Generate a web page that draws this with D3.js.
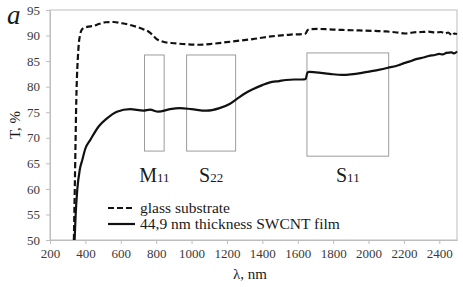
<!DOCTYPE html>
<html>
<head>
  <meta charset="utf-8">
  <title>Transmittance spectra</title>
  <script src="https://d3js.org/d3.v7.min.js"></script>
  <style>
    body { margin: 0; background: #fff; }
    svg { font-family: "Liberation Serif", "Times New Roman", serif; }
    .axis path, .axis line { stroke: #bdbdbd; }
    .line { fill: none; stroke: #111; stroke-width: 2.2; stroke-linejoin: round; }
    .box { fill: none; stroke: #9c9c9c; stroke-width: 1; }
  </style>
</head>
<body>
  <svg width="463" height="287"></svg>
  <script>
    // glass substrate
    const glassL = [335, 340, 350, 358, 363, 370, 376, 390, 410, 447, 480, 513, 560, 607, 650, 690, 730, 756, 780, 803, 830, 850, 900, 972, 1046, 1120, 1196, 1270, 1346, 1420, 1495, 1560, 1626, 1645, 1654, 1664, 1710, 1780, 1851, 1950, 2038, 2100, 2160, 2207, 2250, 2300, 2338, 2380, 2410, 2432, 2450, 2465, 2473, 2485, 2500];
    const glassT = [50, 60, 79.3, 86, 88.5, 90.1, 90.9, 91.5, 91.7, 91.9, 92.3, 92.6, 92.65, 92.4, 92.1, 91.7, 91.2, 90.8, 90.1, 89.3, 88.9, 88.7, 88.5, 88.3, 88.2, 88.4, 88.7, 89.0, 89.3, 89.7, 90.0, 90.2, 90.3, 90.4, 91.0, 91.2, 91.3, 91.2, 91.1, 91.0, 90.9, 90.8, 90.6, 90.4, 90.6, 90.7, 90.75, 90.6, 90.7, 90.4, 90.6, 90.2, 90.0, 90.4, 90.3];

    // 44,9 nm SWCNT film
    const filmL = [339, 345, 354, 368, 382, 400, 428, 475, 522, 578, 653, 728, 765, 812, 878, 934, 1000, 1084, 1158, 1215, 1260, 1308, 1346, 1400, 1439, 1495, 1533, 1580, 1626, 1645, 1654, 1664, 1701, 1780, 1851, 1900, 1963, 2010, 2057, 2110, 2169, 2200, 2230, 2260, 2282, 2310, 2340, 2375, 2400, 2420, 2440, 2469, 2485, 2500];
    const filmT = [50, 55, 59.8, 63.7, 65.6, 67.9, 69.6, 72.2, 73.8, 75.1, 75.6, 75.3, 75.5, 75.1, 75.6, 75.8, 75.6, 75.3, 75.8, 76.6, 77.7, 78.8, 79.5, 80.3, 80.8, 81.1, 81.3, 81.4, 81.4, 81.5, 82.7, 82.9, 82.8, 82.5, 82.3, 82.4, 82.7, 83.0, 83.3, 83.7, 84.2, 84.6, 84.9, 85.3, 85.5, 85.7, 86.0, 86.2, 86.4, 86.3, 86.6, 86.7, 86.5, 86.9];

    // transition regions
    const regionNames = [["M", "11"], ["S", "22"], ["S", "11"]];
    const regionL = [[734, 845], [972, 1249], [1652, 2114]];
    const regionT = [[67.4, 86.2], [67.4, 86.2], [66.4, 86.6]];

    const xTicks = [200, 400, 600, 800, 1000, 1200, 1400, 1600, 1800, 2000, 2200, 2400];
    const yTicks = [50, 55, 60, 65, 70, 75, 80, 85, 90, 95];

    const svg = d3.select("svg"),
          margin = {top: 10, right: 6, bottom: 47, left: 50},
          width = +svg.attr("width") - margin.left - margin.right,
          height = +svg.attr("height") - margin.top - margin.bottom;

    const g = svg.append("g").attr("transform", `translate(${margin.left},${margin.top})`);

    const x = d3.scaleLinear().domain([200, 2500]).range([0, width]);
    const y = d3.scaleLinear().domain([50, 95]).range([height, 0]);

    // frame
    g.append("rect")
      .attr("width", width).attr("height", height)
      .attr("fill", "none").attr("stroke", "#bdbdbd");

    g.append("g")
      .attr("class", "axis x")
      .attr("transform", `translate(0,${height})`)
      .call(d3.axisBottom(x).tickValues(xTicks).tickFormat(d3.format("d")).tickSize(4).tickPadding(5).tickSizeOuter(0))
      .attr("font-family", "Liberation Serif, serif")
      .attr("font-size", 13)
      .selectAll("text").attr("fill", "#3a3a3a");

    g.append("g")
      .attr("class", "axis y")
      .call(d3.axisLeft(y).tickValues(yTicks).tickSize(4).tickPadding(6).tickSizeOuter(0))
      .attr("font-family", "Liberation Serif, serif")
      .attr("font-size", 13)
      .selectAll("text").attr("fill", "#3a3a3a");

    // region boxes
    regionL.forEach((r, i) => {
      g.append("rect")
        .attr("class", "box")
        .attr("x", x(r[0])).attr("width", x(r[1]) - x(r[0]))
        .attr("y", y(regionT[i][1])).attr("height", y(regionT[i][0]) - y(regionT[i][1]));
      const t = g.append("text")
        .attr("x", x((r[0] + r[1]) / 2))
        .attr("y", y(61.4))
        .attr("text-anchor", "middle")
        .attr("fill", "#1a1a1a");
      t.append("tspan").attr("font-size", 20).text(regionNames[i][0]);
      t.append("tspan").attr("font-size", 13).text(regionNames[i][1]);
    });

    const line = d3.line()
      .x(d => x(d[0]))
      .y(d => y(d[1]))
      .curve(d3.curveMonotoneX);

    g.append("path")
      .datum(glassL.map((l, i) => [l, glassT[i]]))
      .attr("class", "line")
      .attr("stroke-dasharray", "6,3")
      .attr("d", line);

    g.append("path")
      .datum(filmL.map((l, i) => [l, filmT[i]]))
      .attr("class", "line")
      .attr("d", line);

    // legend
    const legend = svg.append("g").attr("transform", "translate(108,208)");
    const items = [["glass substrate", "6,3"], ["44,9 nm thickness SWCNT film", null]];
    items.forEach((it, i) => {
      legend.append("line")
        .attr("x1", 0).attr("x2", 27)
        .attr("y1", i * 16).attr("y2", i * 16)
        .attr("stroke", "#111").attr("stroke-width", 2.2)
        .attr("stroke-dasharray", it[1]);
      legend.append("text")
        .attr("x", 32).attr("y", i * 16 + 4.5)
        .attr("font-size", 15.5).attr("fill", "#1a1a1a")
        .text(it[0]);
    });

    // titles
    svg.append("text")
      .attr("x", 7).attr("y", 24)
      .attr("font-size", 27).attr("font-style", "italic").attr("fill", "#1a1a1a")
      .text("a");

    svg.append("text")
      .attr("transform", `translate(20,${margin.top + height / 2}) rotate(-90)`)
      .attr("text-anchor", "middle")
      .attr("font-size", 15).attr("fill", "#1a1a1a")
      .text("T, %");

    svg.append("text")
      .attr("x", 250).attr("y", 279)
      .attr("text-anchor", "middle")
      .attr("font-size", 15).attr("fill", "#1a1a1a")
      .text("λ, nm");
  </script>
</body>
</html>
